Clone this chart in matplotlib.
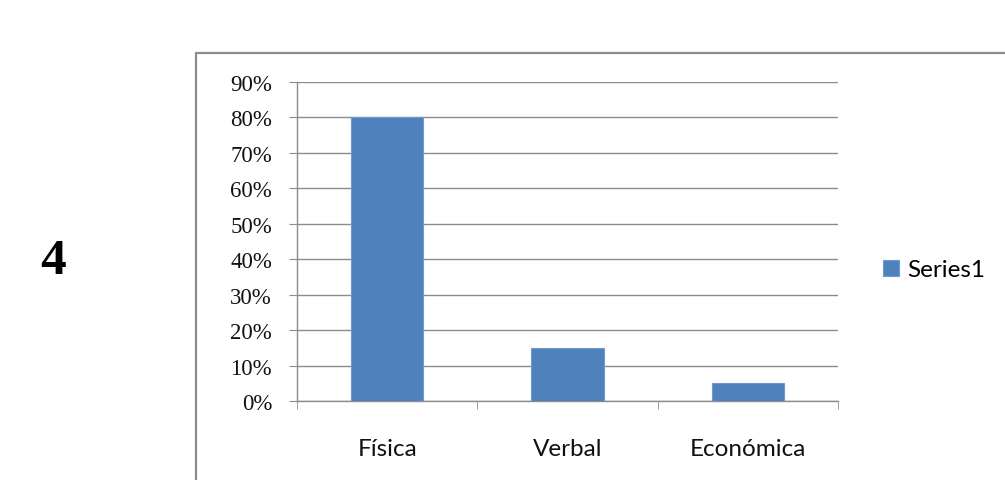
import matplotlib.pyplot as plt
import matplotlib.patches as mpatches
import numpy as np

categories = ["Física", "Verbal", "Económica"]
values = [0.80, 0.15, 0.05]
series_name = "Series1"

W, H = 1005, 481
fig = plt.figure(figsize=(W / 100, H / 100), dpi=100)

# outer chart frame (cut off at right and bottom)
frame = mpatches.Rectangle((196 / W, -0.1), 1.0, (H - 54) / H + 0.1,
                           transform=fig.transFigure, fill=False,
                           edgecolor="#8c8c8c", linewidth=1.6)
fig.patches.append(frame)

fig.text(53.5 / W, 1 - 262 / H, "4", fontsize=37, fontweight="bold",
         family="Liberation Serif", ha="center", va="center")

ax = fig.add_axes([297 / W, 1 - 402 / H, (838 - 297) / W, (402 - 83) / H])

x = np.arange(len(categories))
bars = ax.bar(x, values, width=0.4, color="#4f81bd", edgecolor="#6f99cc",
              linewidth=0.8, label=series_name, zorder=3)

ax.set_xlim(-0.5, len(categories) - 0.5)
ax.set_ylim(0, 0.9)
yt = np.arange(0, 0.91, 0.1)
ax.set_yticks(yt)
ax.set_yticklabels([f"{int(round(v * 100))}%" for v in yt],
                   family="Liberation Serif", fontsize=16.5, color="#111111")
ax.set_xticks(x)
ax.set_xticklabels(categories, family="Lato", fontsize=17.5, color="#111111")
ax.set_xticks(np.arange(-0.5, len(categories), 1.0), minor=True)

ax.grid(axis="y", color="#8c8c8c", linewidth=1.0, zorder=0)
for s in ["top", "right"]:
    ax.spines[s].set_visible(False)
for s in ["left", "bottom"]:
    ax.spines[s].set_color("#8c8c8c")
    ax.spines[s].set_linewidth(1.0)

ax.tick_params(axis="y", which="major", length=6, color="#8c8c8c", pad=12)
ax.tick_params(axis="x", which="major", length=0, pad=27)
ax.tick_params(axis="x", which="minor", length=6, color="#8c8c8c")

fig.legend(handles=[bars], labels=[series_name], loc="center left",
           bbox_to_anchor=(883 / W, 1 - 271 / H), frameon=False,
           borderpad=0, borderaxespad=0,
           prop={"family": "Lato", "size": 17.5}, handlelength=0.66,
           handleheight=0.66, handletextpad=0.32)

fig.savefig("out.png", dpi=100)
